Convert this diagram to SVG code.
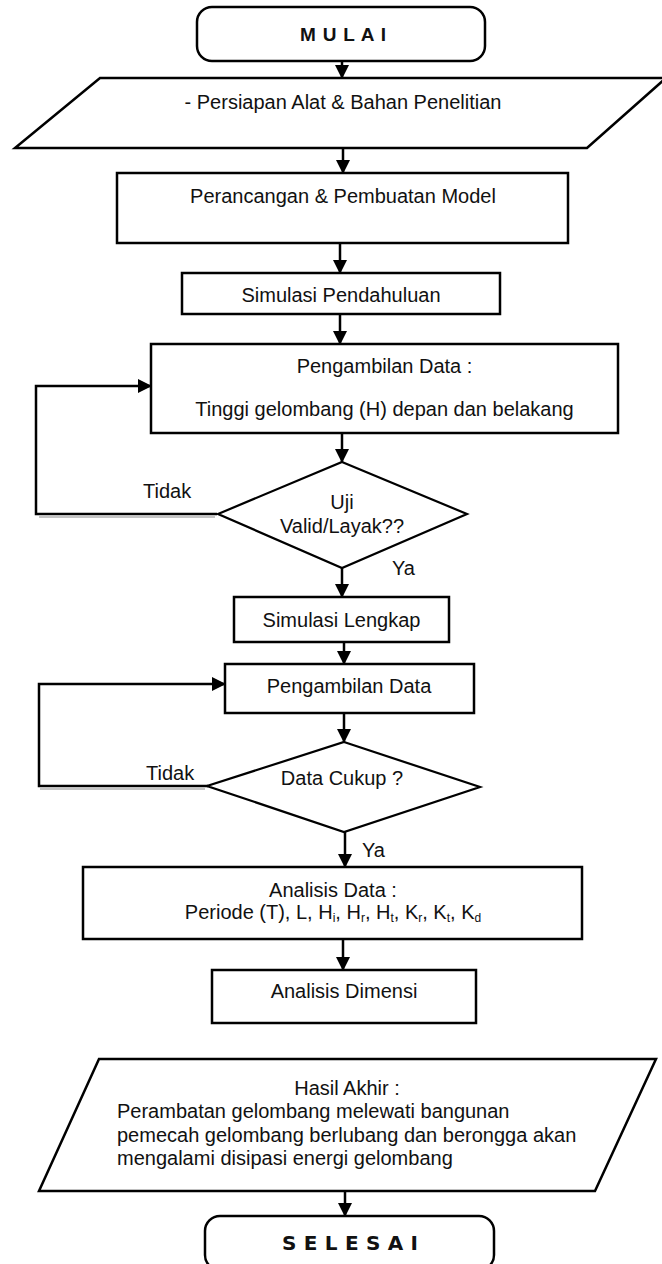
<svg xmlns="http://www.w3.org/2000/svg" width="662" height="1264" viewBox="0 0 662 1264">
<defs>
<style>
text{font-family:"Liberation Sans",Arial,sans-serif;font-size:20px;fill:#111}
.c{text-anchor:middle}
.b{font-weight:bold}
.shape{fill:#fff;stroke:#000;stroke-width:2.5}
.dia{fill:#fff;stroke:#000;stroke-width:2.2}
.conn{fill:none;stroke:#000;stroke-width:2.5}
.sh{fill:none;stroke:#c4c4c4;stroke-width:2}
.sub{font-size:12px}
</style>
<marker id="ah" markerWidth="14" markerHeight="14" refX="13" refY="7" orient="auto" markerUnits="userSpaceOnUse">
<path d="M0,0 L14,7 L0,14 z" fill="#000"/>
</marker>
</defs>
<rect width="662" height="1264" fill="#fff"/>

<g id="connectors">
<line class="conn" x1="342" y1="61" x2="342" y2="78" marker-end="url(#ah)"/>
<line class="conn" x1="343" y1="148" x2="343" y2="173" marker-end="url(#ah)"/>
<line class="conn" x1="340" y1="243" x2="340" y2="273" marker-end="url(#ah)"/>
<line class="conn" x1="340" y1="314" x2="340" y2="344" marker-end="url(#ah)"/>
<line class="conn" x1="342" y1="433" x2="342" y2="462" marker-end="url(#ah)"/>
<line class="sh" x1="39" y1="517" x2="215" y2="517"/>
<polyline class="conn" points="217,514 36,514 36,386 151,386" marker-end="url(#ah)"/>
<line class="conn" x1="342" y1="568" x2="342" y2="597" marker-end="url(#ah)"/>
<line class="conn" x1="344" y1="642" x2="344" y2="664" marker-end="url(#ah)"/>
<line class="conn" x1="344" y1="713" x2="344" y2="742" marker-end="url(#ah)"/>
<line class="sh" x1="40" y1="789" x2="205" y2="789"/>
<polyline class="conn" points="208,786 39,786 39,684 225,684" marker-end="url(#ah)"/>
<line class="conn" x1="345" y1="832" x2="345" y2="867" marker-end="url(#ah)"/>
<line class="conn" x1="343" y1="939" x2="343" y2="970" marker-end="url(#ah)"/>
<line class="conn" x1="345" y1="1191" x2="345" y2="1216" marker-end="url(#ah)"/>
</g>

<g id="mulai">
<rect class="shape" x="197" y="7" width="288" height="54" rx="15" ry="15"/>
<text class="c b" x="343" y="41" style="font-size:19px" textLength="86" lengthAdjust="spacing">M U L A I</text>
</g>

<g id="persiapan">
<polygon class="shape" points="100,78 666,78 587,148 15,148"/>
<text class="c" x="343" y="109">- Persiapan Alat &amp; Bahan Penelitian</text>
</g>

<g id="perancangan">
<rect class="shape" x="117" y="173" width="451" height="70"/>
<text class="c" x="343" y="203">Perancangan &amp; Pembuatan Model</text>
</g>

<g id="simulasi-pendahuluan">
<rect class="shape" x="182" y="273" width="318" height="41"/>
<text class="c" x="341" y="302">Simulasi Pendahuluan</text>
</g>

<g id="pengambilan-data-1">
<rect class="shape" x="151" y="344" width="467" height="89"/>
<text class="c" x="384.5" y="373">Pengambilan Data :</text>
<text class="c" x="384.5" y="416">Tinggi gelombang (H) depan dan belakang</text>
</g>

<g id="uji-valid">
<polygon class="dia" points="342,462 467,514 342,568 218,514"/>
<text class="c" x="342" y="509">Uji</text>
<text class="c" x="342" y="533">Valid/Layak??</text>
<text x="143" y="498">Tidak</text>
<text x="392" y="575">Ya</text>
</g>

<g id="simulasi-lengkap">
<rect class="shape" x="234" y="597" width="215" height="45"/>
<text class="c" x="341.5" y="627">Simulasi Lengkap</text>
</g>

<g id="pengambilan-data-2">
<rect class="shape" x="225" y="664" width="249" height="49"/>
<text class="c" x="349" y="693">Pengambilan Data</text>
</g>

<g id="data-cukup">
<polygon class="dia" points="344,742 480,787 344,832 207,786"/>
<text class="c" x="342" y="785">Data Cukup ?</text>
<text x="146" y="780">Tidak</text>
<text x="362" y="857">Ya</text>
</g>

<g id="analisis-data">
<rect class="shape" x="83" y="867" width="499" height="72"/>
<text class="c" x="333" y="897">Analisis Data :</text>
<text class="c" x="333" y="919">Periode (T), L, H<tspan class="sub" dy="3">i</tspan><tspan dy="-3">, H</tspan><tspan class="sub" dy="3">r</tspan><tspan dy="-3">, H</tspan><tspan class="sub" dy="3">t</tspan><tspan dy="-3">, K</tspan><tspan class="sub" dy="3">r</tspan><tspan dy="-3">, K</tspan><tspan class="sub" dy="3">t</tspan><tspan dy="-3">, K</tspan><tspan class="sub" dy="3">d</tspan></text>
</g>

<g id="analisis-dimensi">
<rect class="shape" x="212" y="970" width="264" height="53"/>
<text class="c" x="344" y="998">Analisis Dimensi</text>
</g>

<g id="hasil-akhir">
<polygon class="shape" points="99,1059 656,1059 595,1191 39,1191"/>
<text class="c" x="347" y="1095">Hasil Akhir :</text>
<text x="117" y="1118">Perambatan gelombang melewati bangunan</text>
<text x="117" y="1142">pemecah gelombang berlubang dan berongga akan</text>
<text x="117" y="1165">mengalami disipasi energi gelombang</text>
</g>

<g id="selesai">
<rect class="shape" x="205" y="1216" width="289" height="54" rx="15" ry="15"/>
<text class="c b" x="350" y="1250" style="font-family:'DejaVu Sans',Verdana,sans-serif;font-size:20px" textLength="136" lengthAdjust="spacing">S E L E S A I</text>
</g>
</svg>
